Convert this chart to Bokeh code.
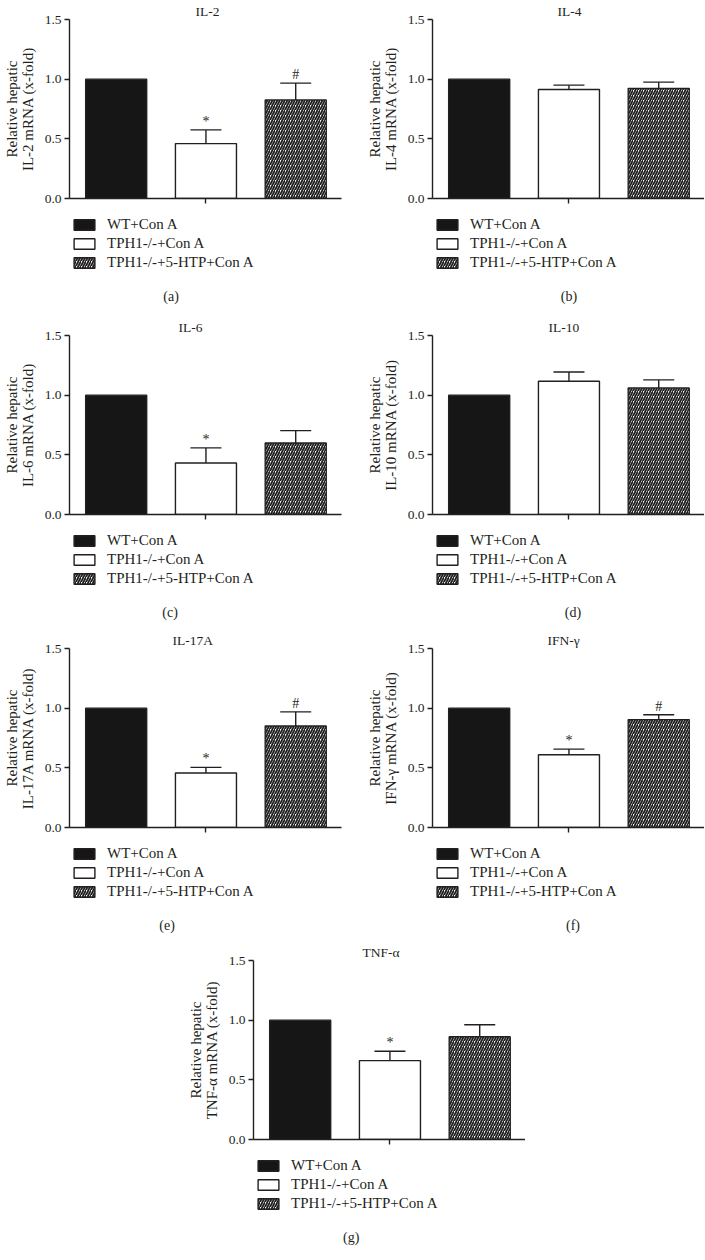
from bokeh.plotting import figure
from bokeh.models import (FixedTicker, NumeralTickFormatter, Whisker, ColumnDataSource,
                          Legend, LegendItem, Range1d, Spacer, TeeHead, Label)
from bokeh.layouts import column, row
from bokeh.embed import file_html
from bokeh.resources import INLINE

# ---------------- data ----------------
groups = ["WT+Con A", "TPH1-/-+Con A", "TPH1-/-+5-HTP+Con A"]
group_x = [1, 2, 3]
y_ticks = [0.0, 0.5, 1.0, 1.5]

panel_names = ["IL-2", "IL-4", "IL-6", "IL-10", "IL-17A", "IFN-γ", "TNF-α"]
panel_letters = ["(a)", "(b)", "(c)", "(d)", "(e)", "(f)", "(g)"]

il2_mean = [1.00, 0.46, 0.825]
il2_sem = [0.0, 0.115, 0.142]
il2_marks = ["", "*", "#"]

il4_mean = [1.00, 0.914, 0.923]
il4_sem = [0.0, 0.036, 0.052]
il4_marks = ["", "", ""]

il6_mean = [1.00, 0.432, 0.599]
il6_sem = [0.0, 0.126, 0.104]
il6_marks = ["", "*", ""]

il10_mean = [1.00, 1.117, 1.061]
il10_sem = [0.0, 0.077, 0.067]
il10_marks = ["", "", ""]

il17a_mean = [1.00, 0.457, 0.850]
il17a_sem = [0.0, 0.047, 0.119]
il17a_marks = ["", "*", "#"]

ifng_mean = [1.00, 0.610, 0.904]
ifng_sem = [0.0, 0.047, 0.041]
ifng_marks = ["", "*", "#"]

tnfa_mean = [1.00, 0.661, 0.861]
tnfa_sem = [0.0, 0.078, 0.100]
tnfa_marks = ["", "*", ""]

# ---------------- style ----------------
FONT = "Liberation Serif"
INK = "#231f20"
BAR_FILL = ["#161616", "#ffffff", "#ffffff"]
BAR_HATCH = [None, None, "/"]
LEFT, TOP, BOTTOM = 68, 18, 16
FRAME_W, FRAME_H = 273, 180
LEG_H = 92
KEY_X0 = -FRAME_W - 80   # legend strip range start (keeps its swatch renderers out of view)


def bar_style(i):
    kw = dict(fill_color=BAR_FILL[i], line_color=INK, line_width=1.4)
    if BAR_HATCH[i]:
        kw.update(hatch_pattern=BAR_HATCH[i], hatch_color="#1e1e1e",
                  hatch_scale=5, hatch_weight=1.8)
    return kw


def make_chart(name, mean, sem, marks, right_border, title_off):
    p = figure(width=LEFT + FRAME_W + right_border, height=TOP + FRAME_H + BOTTOM,
               x_range=Range1d(0.48, 3.51), y_range=Range1d(0, 1.5),
               min_border_left=LEFT, min_border_right=right_border,
               min_border_top=TOP, min_border_bottom=BOTTOM,
               output_backend="svg", toolbar_location=None)
    p.outline_line_color = None
    p.grid.visible = False

    p.title.text = name
    p.title.align = "left"
    p.title.offset = title_off
    p.title.standoff = 2
    p.title.text_font = FONT
    p.title.text_font_size = "13.5px"
    p.title.text_font_style = "normal"
    p.title.text_color = INK

    ya = p.yaxis[0]
    ya.ticker = FixedTicker(ticks=y_ticks)
    ya.formatter = NumeralTickFormatter(format="0.0")
    ya.minor_tick_line_color = None
    ya.major_tick_in = 0
    ya.major_tick_out = 5
    ya.major_label_standoff = 3
    ya.axis_line_width = 1.4
    ya.major_tick_line_width = 1.4
    ya.axis_line_color = INK
    ya.major_tick_line_color = INK
    ya.major_label_text_font = FONT
    ya.major_label_text_font_size = "13.5px"
    ya.major_label_text_color = INK
    ya.axis_label = "Relative hepatic\n%s mRNA (x-fold)" % name
    ya.axis_label_text_font = FONT
    ya.axis_label_text_font_size = "15px"
    ya.axis_label_text_line_height = 1.0
    ya.axis_label_text_font_style = "normal"
    ya.axis_label_text_color = INK
    ya.axis_label_standoff = 6

    xa = p.xaxis[0]
    xa.ticker = FixedTicker(ticks=[2])
    xa.minor_tick_line_color = None
    xa.major_tick_in = 0
    xa.major_tick_out = 5
    xa.major_label_text_color = None
    xa.major_label_text_font_size = "6px"
    xa.major_label_standoff = 0
    xa.axis_line_width = 1.4
    xa.major_tick_line_width = 1.4
    xa.axis_line_color = INK
    xa.major_tick_line_color = INK

    for i in range(3):
        src = ColumnDataSource(dict(x=[group_x[i]], top=[mean[i]]))
        p.vbar(x="x", top="top", bottom=0, width=0.68, source=src, **bar_style(i))

    ex, elo, ehi = [], [], []
    for i in range(3):
        if sem[i] > 0:
            ex.append(group_x[i])
            elo.append(mean[i])
            ehi.append(mean[i] + sem[i])
    esrc = ColumnDataSource(dict(x=ex, lo=elo, hi=ehi))
    p.add_layout(Whisker(base="x", lower="lo", upper="hi", source=esrc,
                         line_color=INK, line_width=1.4, dimension="height",
                         upper_head=TeeHead(size=31, line_color=INK, line_width=1.4),
                         lower_head=None))

    mx, my, mt = [], [], []
    for i in range(3):
        if marks[i]:
            mx.append(group_x[i])
            my.append(mean[i] + sem[i])
            mt.append(marks[i])
    if mx:
        msrc = ColumnDataSource(dict(x=mx, y=my, t=mt))
        p.text(x="x", y="y", text="t", source=msrc, text_align="center",
               text_baseline="bottom", y_offset=-1, text_font={"value": FONT},
               text_font_size="14px", text_color=INK)
    return p


def make_key(mean, letter, right_border, letter_dx):
    # legend strip under each chart; its frame spans the chart's frame width
    k = figure(width=LEFT + FRAME_W + right_border, height=LEG_H,
               x_range=Range1d(KEY_X0, KEY_X0 + FRAME_W), y_range=Range1d(-LEG_H - 10, -10),
               min_border_left=LEFT, min_border_right=right_border,
               min_border_top=0, min_border_bottom=0,
               x_axis_location=None, y_axis_location=None,
               output_backend="svg", toolbar_location=None)
    k.outline_line_color = None
    k.grid.visible = False
    items = []
    for i in range(3):
        src = ColumnDataSource(dict(x=[group_x[i]], top=[mean[i]]))
        r = k.vbar(x="x", top="top", bottom=0, width=0.68, source=src,
                   muted_fill_alpha=0, muted_line_alpha=0, muted_hatch_alpha=0,
                   **bar_style(i))
        r.muted = True   # the strip only shows the key swatches, not the bars
        items.append(LegendItem(label=groups[i], renderers=[r]))
    leg = Legend(items=items, location="top_left", orientation="vertical",
                 glyph_width=26, glyph_height=13, label_height=13,
                 label_standoff=10, spacing=2, padding=0, margin=2,
                 border_line_color=None, background_fill_alpha=0,
                 label_text_font=FONT, label_text_font_size="15px",
                 label_text_color=INK, click_policy="none")
    k.add_layout(leg)
    k.add_layout(Label(x=KEY_X0 + letter_dx, y=-10 - 82, text=letter, text_align="center",
                       text_baseline="middle", text_font=FONT, text_font_size="14px",
                       text_color=INK))
    return k


def panel(name, mean, sem, marks, letter, right_border, title_off, letter_dx):
    return column(make_chart(name, mean, sem, marks, right_border, title_off),
                  make_key(mean, letter, right_border, letter_dx))


pa = panel(panel_names[0], il2_mean, il2_sem, il2_marks, panel_letters[0], 22, 126, 102)
pb = panel(panel_names[1], il4_mean, il4_sem, il4_marks, panel_letters[1], 0, 125, 137)
pc = panel(panel_names[2], il6_mean, il6_sem, il6_marks, panel_letters[2], 22, 109, 101)
pd = panel(panel_names[3], il10_mean, il10_sem, il10_marks, panel_letters[3], 0, 116, 141)
pe = panel(panel_names[4], il17a_mean, il17a_sem, il17a_marks, panel_letters[4], 22, 103, 98)
pf = panel(panel_names[5], ifng_mean, ifng_sem, ifng_marks, panel_letters[5], 0, 115, 141)
pg = panel(panel_names[6], tnfa_mean, tnfa_sem, tnfa_marks, panel_letters[6], 0, 109, 98)

layout = column(
    row(pa, pb),
    Spacer(height=10),
    row(pc, pd),
    Spacer(height=7),
    row(pe, pf),
    Spacer(height=6),
    row(Spacer(width=184), pg),
)

open("out.html", "w").write(file_html(layout, INLINE))
